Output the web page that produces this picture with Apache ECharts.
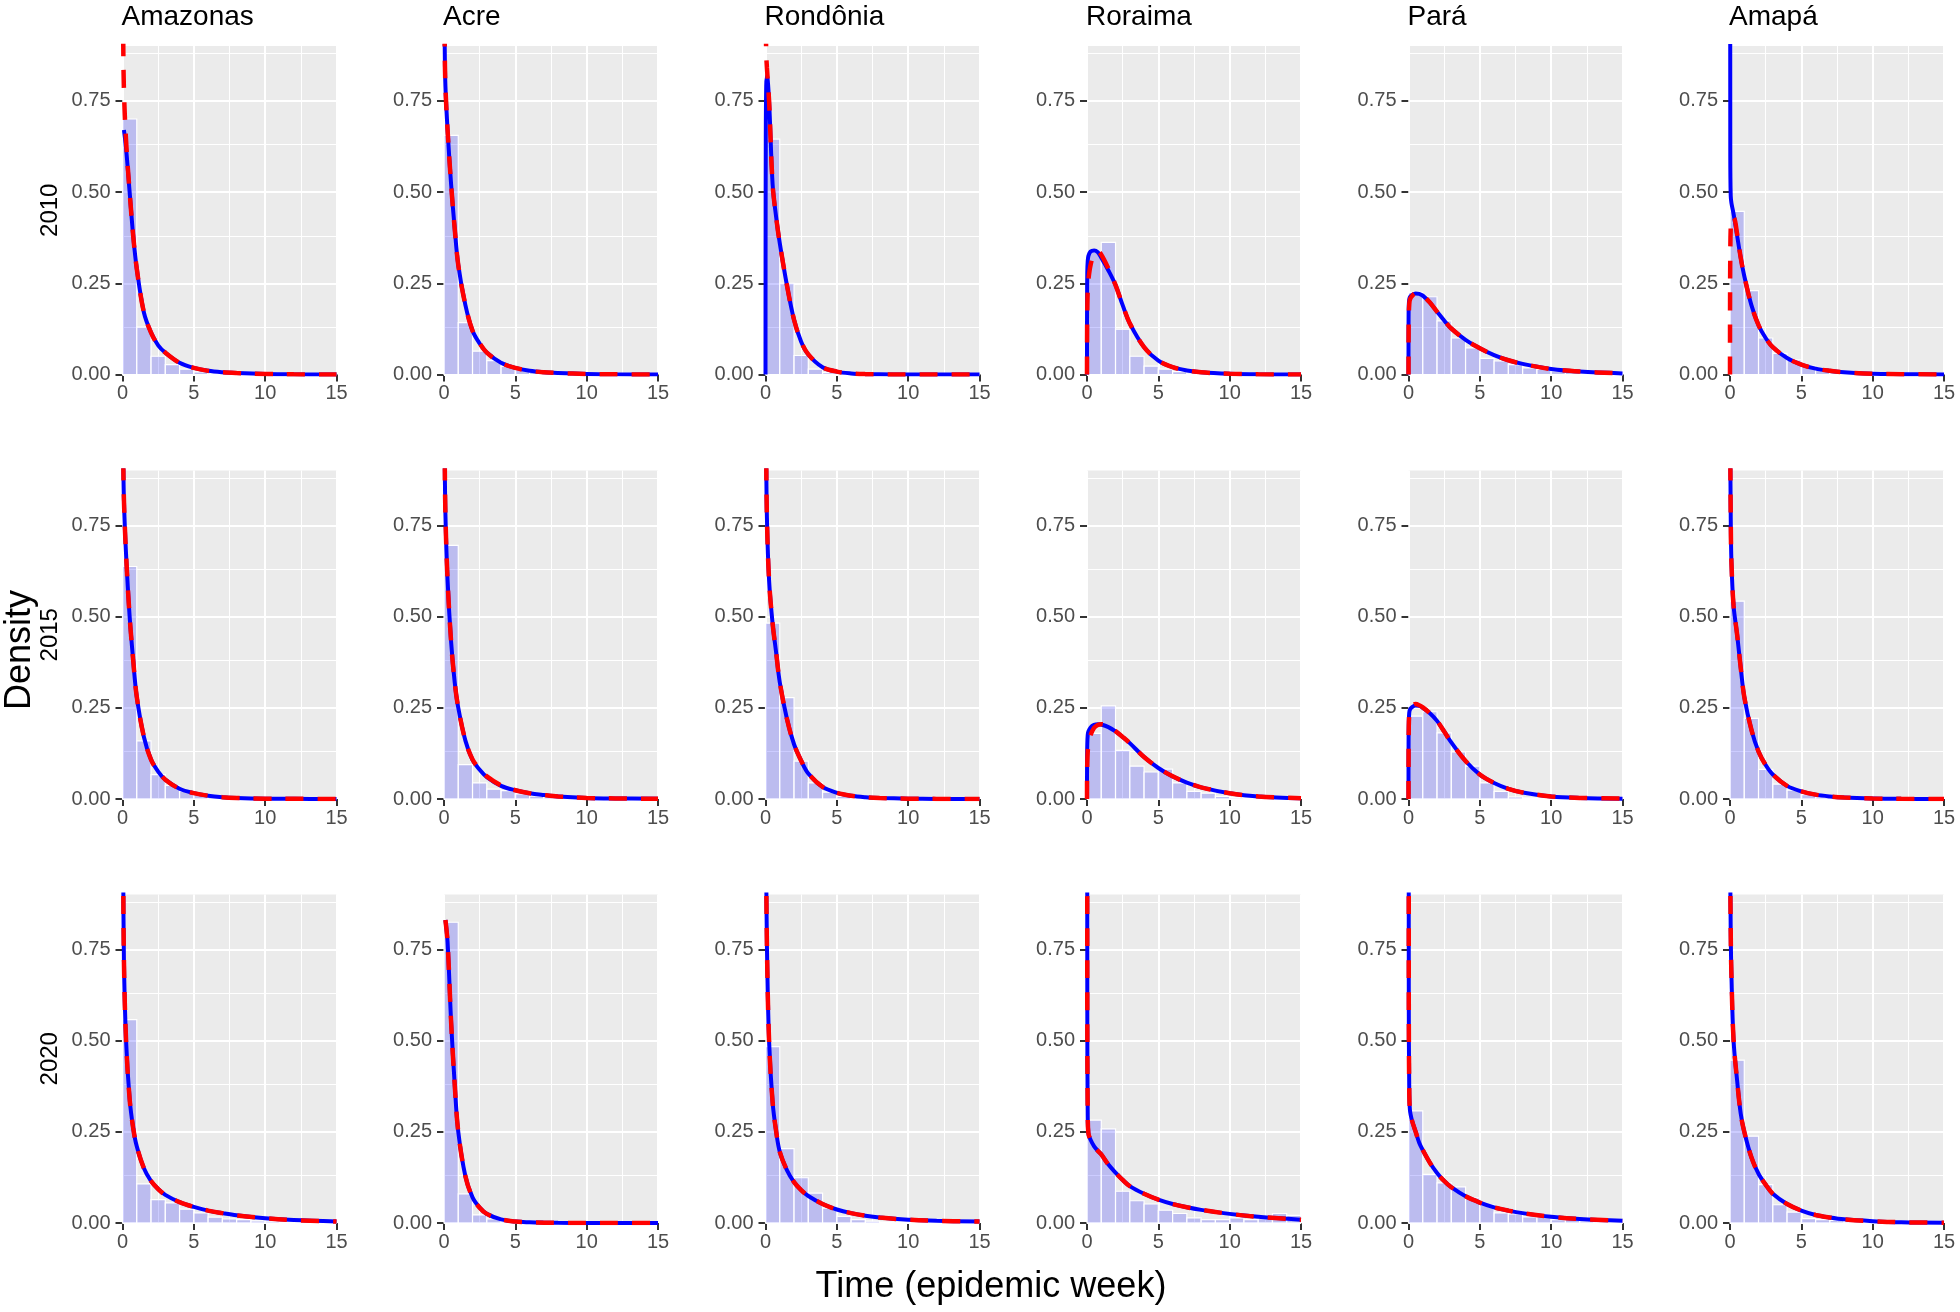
<!DOCTYPE html>
<html>
<head>
<meta charset="utf-8">
<title>Density - Time (epidemic week)</title>
<script src="https://cdn.jsdelivr.net/npm/echarts@6/dist/echarts.min.js"></script>
<style>
  html, body { margin: 0; padding: 0; background: #fff; }
  #chart { width: 1960px; height: 1312px; }
</style>
</head>
<body>
<div id="chart"></div>
<script>
// facets
const STATES = ['Amazonas', 'Acre', 'Rondônia', 'Roraima', 'Pará', 'Amapá'];
const YEARS = ['2010', '2015', '2020'];

// histogram bins (width 1 week, starting at 0)
const BIN_STARTS = [0, 1, 2, 3, 4, 5, 6, 7, 8, 9, 10, 11, 12, 13, 14];
// x positions where the fitted curves were read
const CURVE_X = [0, 0.005, 0.02, 0.05, 0.1, 0.25, 0.5, 0.75, 1, 1.5, 2, 2.5, 3, 4, 5, 6, 7, 8, 10, 12, 15];

// tick values
const X_TICKS = [0, 5, 10, 15];
const Y_TICKS = [0, 0.25, 0.5, 0.75];
const Y_MINOR = [0.125, 0.375, 0.625, 0.875];

// ---- 2010 ----
const HIST_2010 = [
  [0.70, 0.13, 0.05, 0.027, 0.015, 0.007, 0.004, 0.002, 0, 0, 0, 0, 0, 0, 0],
  [0.655, 0.142, 0.064, 0.038, 0.022, 0.012, 0.006, 0.004, 0.002, 0.001, 0, 0, 0, 0, 0],
  [0.645, 0.25, 0.052, 0.015, 0.005, 0.002, 0.001, 0, 0, 0, 0, 0, 0, 0, 0],
  [0.335, 0.362, 0.124, 0.05, 0.023, 0.015, 0.008, 0.004, 0.002, 0.001, 0, 0, 0, 0, 0],
  [0.225, 0.213, 0.147, 0.10, 0.073, 0.044, 0.037, 0.027, 0.018, 0.014, 0.01, 0.006, 0.004, 0.003, 0.002],
  [0.447, 0.23, 0.10, 0.058, 0.04, 0.023, 0.014, 0.008, 0.005, 0.003, 0.002, 0.001, 0, 0, 0]
];
const BLUE_2010 = [
  [null, null, null, null, 0.67, 0.62, 0.5, 0.38, 0.29, 0.17, 0.115, 0.08, 0.06, 0.032, 0.018, 0.01, 0.006, 0.004, 0.0015, 0.0005, 0.0001],
  [null, 2.0, 1.1, 0.9, 0.79, 0.67, 0.52, 0.40, 0.30, 0.19, 0.12, 0.085, 0.06, 0.032, 0.018, 0.01, 0.006, 0.004, 0.0015, 0.0005, 0.0001],
  [0, 0.3, 0.65, 0.79, 0.82, 0.75, 0.52, 0.43, 0.36, 0.245, 0.15, 0.09, 0.055, 0.02, 0.008, 0.003, 0.001, 0.0005, 0, 0, 0],
  [0, 0.2, 0.28, 0.31, 0.325, 0.337, 0.34, 0.335, 0.32, 0.285, 0.245, 0.19, 0.14, 0.075, 0.038, 0.02, 0.011, 0.006, 0.002, 0.0005, 0],
  [0, 0.15, 0.19, 0.205, 0.212, 0.218, 0.222, 0.221, 0.216, 0.197, 0.172, 0.148, 0.126, 0.095, 0.072, 0.053, 0.039, 0.029, 0.015, 0.008, 0.003],
  [null, 2.5, 0.6, 0.49, 0.47, 0.44, 0.38, 0.32, 0.27, 0.19, 0.135, 0.1, 0.075, 0.045, 0.027, 0.016, 0.01, 0.006, 0.002, 0.001, 0]
];
const RED_2010 = [
  [null, 2.5, 1.1, 0.92, 0.78, 0.64, 0.5, 0.38, 0.29, 0.17, 0.115, 0.08, 0.06, 0.032, 0.018, 0.01, 0.006, 0.004, 0.0015, 0.0005, 0.0001],
  [null, 2.0, 1.1, 0.9, 0.79, 0.67, 0.52, 0.40, 0.30, 0.19, 0.12, 0.085, 0.06, 0.032, 0.018, 0.01, 0.006, 0.004, 0.0015, 0.0005, 0.0001],
  [null, 2.0, 1.0, 0.88, 0.84, 0.75, 0.52, 0.43, 0.36, 0.245, 0.15, 0.09, 0.055, 0.02, 0.008, 0.003, 0.001, 0.0005, 0, 0, 0],
  [0, 0.1, 0.18, 0.23, 0.26, 0.3, 0.33, 0.337, 0.328, 0.29, 0.245, 0.19, 0.14, 0.075, 0.038, 0.02, 0.011, 0.006, 0.002, 0.0005, 0],
  [0, 0.1, 0.16, 0.19, 0.205, 0.215, 0.222, 0.222, 0.217, 0.197, 0.172, 0.148, 0.126, 0.095, 0.072, 0.053, 0.039, 0.029, 0.015, 0.008, 0.003],
  [0, 0.2, 0.33, 0.4, 0.43, 0.43, 0.385, 0.32, 0.27, 0.19, 0.135, 0.1, 0.075, 0.045, 0.027, 0.016, 0.01, 0.006, 0.002, 0.001, 0]
];

// ---- 2015 ----
const HIST_2015 = [
  [0.637, 0.159, 0.067, 0.037, 0.021, 0.01, 0.005, 0.003, 0.002, 0.001, 0, 0, 0, 0, 0],
  [0.695, 0.094, 0.044, 0.027, 0.023, 0.014, 0.008, 0.005, 0.003, 0.002, 0.001, 0, 0, 0, 0],
  [0.482, 0.278, 0.104, 0.044, 0.019, 0.007, 0.003, 0.001, 0, 0, 0, 0, 0, 0, 0],
  [0.18, 0.255, 0.133, 0.09, 0.074, 0.082, 0.044, 0.021, 0.016, 0.007, 0.004, 0.002, 0.001, 0.001, 0],
  [0.227, 0.239, 0.181, 0.129, 0.09, 0.044, 0.021, 0.006, 0.003, 0.002, 0.001, 0, 0, 0, 0],
  [0.542, 0.221, 0.081, 0.041, 0.024, 0.012, 0.006, 0.003, 0.002, 0.001, 0, 0, 0, 0, 0]
];
const BLUE_2015 = [
  [null, 2.5, 1.2, 0.95, 0.82, 0.67, 0.5, 0.38, 0.28, 0.17, 0.108, 0.075, 0.053, 0.028, 0.016, 0.009, 0.005, 0.003, 0.001, 0.0005, 0],
  [null, 2.5, 1.3, 0.95, 0.78, 0.6, 0.43, 0.32, 0.25, 0.16, 0.107, 0.08, 0.06, 0.036, 0.024, 0.016, 0.011, 0.007, 0.003, 0.0015, 0.0005],
  [null, 2.5, 1.3, 0.95, 0.77, 0.6, 0.48, 0.4, 0.32, 0.22, 0.15, 0.105, 0.07, 0.033, 0.017, 0.009, 0.005, 0.003, 0.001, 0.0003, 0],
  [0, 0.1, 0.15, 0.175, 0.185, 0.196, 0.203, 0.205, 0.204, 0.197, 0.185, 0.17, 0.153, 0.115, 0.085, 0.062, 0.045, 0.032, 0.016, 0.007, 0.002],
  [0, 0.15, 0.21, 0.235, 0.245, 0.252, 0.256, 0.255, 0.25, 0.235, 0.214, 0.185, 0.155, 0.104, 0.067, 0.044, 0.028, 0.018, 0.007, 0.003, 0.001],
  [null, 2.5, 1.0, 0.78, 0.65, 0.53, 0.45, 0.36, 0.28, 0.19, 0.13, 0.093, 0.067, 0.036, 0.021, 0.012, 0.007, 0.004, 0.0015, 0.0005, 0]
];
const RED_2015 = [
  [null, 2.5, 1.2, 0.95, 0.82, 0.67, 0.5, 0.38, 0.28, 0.17, 0.108, 0.075, 0.053, 0.028, 0.016, 0.009, 0.005, 0.003, 0.001, 0.0005, 0],
  [null, 2.5, 1.3, 0.95, 0.78, 0.6, 0.43, 0.32, 0.25, 0.16, 0.108, 0.082, 0.062, 0.037, 0.024, 0.016, 0.011, 0.007, 0.003, 0.0015, 0.0005],
  [null, 2.5, 1.3, 0.95, 0.77, 0.6, 0.48, 0.4, 0.32, 0.22, 0.15, 0.105, 0.07, 0.033, 0.017, 0.009, 0.005, 0.003, 0.001, 0.0003, 0],
  [0, 0.06, 0.1, 0.13, 0.15, 0.175, 0.195, 0.203, 0.205, 0.199, 0.186, 0.17, 0.153, 0.115, 0.085, 0.062, 0.045, 0.032, 0.016, 0.007, 0.002],
  [0, 0.12, 0.2, 0.23, 0.245, 0.255, 0.26, 0.257, 0.251, 0.235, 0.214, 0.185, 0.155, 0.104, 0.067, 0.044, 0.028, 0.018, 0.007, 0.003, 0.001],
  [null, 2.5, 1.0, 0.78, 0.65, 0.53, 0.45, 0.36, 0.28, 0.19, 0.13, 0.093, 0.067, 0.036, 0.021, 0.012, 0.007, 0.004, 0.0015, 0.0005, 0]
];

// ---- 2020 ----
const HIST_2020 = [
  [0.557, 0.107, 0.064, 0.055, 0.038, 0.028, 0.016, 0.011, 0.009, 0.006, 0.005, 0.003, 0.002, 0.002, 0.001],
  [0.824, 0.08, 0.022, 0.011, 0.004, 0.002, 0.001, 0, 0, 0, 0, 0, 0, 0, 0],
  [0.483, 0.204, 0.124, 0.082, 0.041, 0.018, 0.009, 0.005, 0.003, 0.002, 0.001, 0.001, 0, 0, 0],
  [0.282, 0.258, 0.087, 0.061, 0.052, 0.035, 0.026, 0.014, 0.009, 0.009, 0.014, 0.009, 0.012, 0.026, 0.021],
  [0.307, 0.133, 0.11, 0.099, 0.069, 0.05, 0.028, 0.025, 0.017, 0.016, 0.009, 0.012, 0.006, 0.004, 0.003],
  [0.446, 0.238, 0.105, 0.05, 0.03, 0.012, 0.009, 0.007, 0.004, 0.002, 0.001, 0.001, 0, 0, 0]
];
const BLUE_2020 = [
  [null, 3, 1.5, 1.0, 0.72, 0.5, 0.34, 0.26, 0.21, 0.15, 0.115, 0.093, 0.077, 0.057, 0.044, 0.034, 0.027, 0.021, 0.013, 0.008, 0.004],
  [null, null, null, null, 0.83, 0.77, 0.55, 0.38, 0.25, 0.128, 0.07, 0.042, 0.025, 0.01, 0.004, 0.002, 0.001, 0.0005, 0, 0, 0],
  [null, 3, 1.5, 1.0, 0.76, 0.5, 0.33, 0.25, 0.195, 0.145, 0.112, 0.09, 0.074, 0.052, 0.037, 0.027, 0.02, 0.015, 0.009, 0.006, 0.004],
  [null, 3, 0.6, 0.3, 0.245, 0.228, 0.21, 0.198, 0.188, 0.16, 0.138, 0.118, 0.101, 0.08, 0.064, 0.052, 0.043, 0.036, 0.025, 0.017, 0.009],
  [null, 3, 0.6, 0.38, 0.31, 0.28, 0.25, 0.22, 0.2, 0.165, 0.137, 0.115, 0.098, 0.073, 0.056, 0.043, 0.034, 0.027, 0.017, 0.011, 0.006],
  [null, 3, 1.0, 0.8, 0.68, 0.5, 0.39, 0.3, 0.25, 0.18, 0.135, 0.105, 0.08, 0.052, 0.034, 0.022, 0.015, 0.01, 0.005, 0.002, 0.001]
];
const RED_2020 = [
  [null, 3, 1.5, 1.0, 0.72, 0.5, 0.34, 0.26, 0.21, 0.15, 0.115, 0.093, 0.077, 0.057, 0.044, 0.034, 0.027, 0.021, 0.013, 0.008, 0.004],
  [null, null, null, null, 0.83, 0.77, 0.55, 0.38, 0.25, 0.128, 0.07, 0.042, 0.025, 0.01, 0.004, 0.002, 0.001, 0.0005, 0, 0, 0],
  [null, 3, 1.5, 1.0, 0.76, 0.5, 0.33, 0.25, 0.195, 0.145, 0.112, 0.09, 0.074, 0.052, 0.037, 0.027, 0.02, 0.015, 0.009, 0.006, 0.004],
  [null, 3, 0.6, 0.3, 0.245, 0.228, 0.21, 0.198, 0.188, 0.16, 0.138, 0.118, 0.101, 0.08, 0.064, 0.052, 0.043, 0.036, 0.025, 0.017, 0.009],
  [null, 3, 0.6, 0.38, 0.31, 0.28, 0.25, 0.22, 0.2, 0.165, 0.137, 0.115, 0.098, 0.073, 0.056, 0.043, 0.034, 0.027, 0.017, 0.011, 0.006],
  [null, 3, 1.0, 0.8, 0.68, 0.5, 0.39, 0.3, 0.25, 0.18, 0.135, 0.105, 0.08, 0.052, 0.034, 0.022, 0.015, 0.01, 0.005, 0.002, 0.001]
];

const HIST = [HIST_2010, HIST_2015, HIST_2020];
const BLUE = [BLUE_2010, BLUE_2015, BLUE_2020];
const RED = [RED_2010, RED_2015, RED_2020];

// layout (px)
const FONT = '"Liberation Sans", Arial, sans-serif';
const PANEL_LEFT = 122.5, PANEL_STEP_X = 321.5, PANEL_W = 214;
const PANEL_TOPS = [46, 470.5, 894.5], PANEL_H = 328.5;

function curveData(vals) {
  const out = [];
  CURVE_X.forEach((x, i) => {
    if (vals[i] !== null) out.push([x, vals[i]]);
  });
  return out;
}

function renderBin(params, api) {
  const x0 = api.value(0), h = api.value(1);
  if (!(h > 0)) return null;
  const p0 = api.coord([x0, h]);
  const p1 = api.coord([x0 + 1, 0]);
  return {
    type: 'rect',
    shape: { x: p0[0], y: p0[1], width: p1[0] - p0[0], height: p1[1] - p0[1] },
    style: { fill: 'rgba(0,0,255,0.2)', stroke: '#ffffff', lineWidth: 1.2 }
  };
}

const grids = [], xAxes = [], yAxes = [], series = [], titles = [], graphics = [];

YEARS.forEach((year, r) => {
  STATES.forEach((state, c) => {
    const k = grids.length;
    const left = PANEL_LEFT + c * PANEL_STEP_X;
    grids.push({
      left: left, top: PANEL_TOPS[r], width: PANEL_W, height: PANEL_H,
      show: true, backgroundColor: '#EBEBEB', borderWidth: 0
    });
    xAxes.push({
      type: 'value', gridIndex: k, min: 0, max: 15, interval: 5,
      axisLine: { show: false },
      axisTick: { show: true, length: 7, lineStyle: { color: '#333333', width: 2 } },
      axisLabel: { fontFamily: FONT, fontSize: 20, color: '#4D4D4D', margin: 9 },
      splitLine: { show: true, lineStyle: { color: '#ffffff', width: 2 } },
      minorTick: { show: false, splitNumber: 2 },
      minorSplitLine: { show: true, lineStyle: { color: '#ffffff', width: 1 } }
    });
    yAxes.push({
      type: 'value', gridIndex: k, min: 0, max: 0.9, interval: 0.25,
      axisLine: { show: false },
      axisTick: { show: true, length: 7, customValues: Y_TICKS, lineStyle: { color: '#333333', width: 2 } },
      axisLabel: {
        fontFamily: FONT, fontSize: 20, color: '#4D4D4D', margin: 12,
        customValues: Y_TICKS,
        formatter: v => (Y_TICKS.indexOf(v) >= 0 ? v.toFixed(2) : '')
      },
      splitLine: { show: false }
    });

    // horizontal grid lines drawn under the bars
    const gridLines = Y_TICKS.map(v => ({ yAxis: v, lineStyle: { width: 2 } }))
      .concat(Y_MINOR.map(v => ({ yAxis: v, lineStyle: { width: 1 } })));

    series.push({
      type: 'custom', xAxisIndex: k, yAxisIndex: k, z: 2,
      renderItem: renderBin,
      encode: { x: 0, y: 1 },
      data: BIN_STARTS.map((b, i) => [b, HIST[r][c][i]]),
      markLine: {
        silent: true, z: 1, symbol: ['none', 'none'], animation: false,
        label: { show: false },
        lineStyle: { color: '#ffffff', type: 'solid' },
        data: gridLines
      }
    });
    series.push({
      type: 'line', xAxisIndex: k, yAxisIndex: k, z: 3,
      data: curveData(BLUE[r][c]), showSymbol: false, symbol: 'none',
      smooth: 0.35, clip: true,
      lineStyle: { color: '#0000FF', width: 4 }
    });
    series.push({
      type: 'line', xAxisIndex: k, yAxisIndex: k, z: 4,
      data: curveData(RED[r][c]), showSymbol: false, symbol: 'none',
      smooth: 0.35, clip: true,
      lineStyle: { color: '#FF0000', width: 4.5, type: [18, 14], cap: 'butt' }
    });

    if (r === 0) {
      titles.push({
        text: state, left: left - 1, top: 3, padding: 0,
        textStyle: { fontFamily: FONT, fontSize: 28, fontWeight: 'normal', color: '#000000' }
      });
    }
  });

  // row strip label (year)
  graphics.push({
    type: 'text', x: 50, y: PANEL_TOPS[r] + PANEL_H / 2, rotation: Math.PI / 2,
    style: { text: year, fontFamily: FONT, fontSize: 24, fill: '#000000',
      align: 'center', verticalAlign: 'middle', textAlign: 'center', textVerticalAlign: 'middle' }
  });
});

// axis titles
graphics.push({
  type: 'text', x: 20, y: 650, rotation: Math.PI / 2,
  style: { text: 'Density', fontFamily: FONT, fontSize: 36, fill: '#000000',
    align: 'center', verticalAlign: 'middle', textAlign: 'center', textVerticalAlign: 'middle' }
});
graphics.push({
  type: 'text', x: 991, y: 1287,
  style: { text: 'Time (epidemic week)', fontFamily: FONT, fontSize: 36, fill: '#000000',
    align: 'center', verticalAlign: 'middle', textAlign: 'center', textVerticalAlign: 'middle' }
});

const chart = echarts.init(document.getElementById('chart'), null, { renderer: 'canvas' });
chart.setOption({
  animation: false,
  backgroundColor: '#ffffff',
  title: titles,
  grid: grids,
  xAxis: xAxes,
  yAxis: yAxes,
  series: series,
  graphic: graphics
});
</script>
</body>
</html>
